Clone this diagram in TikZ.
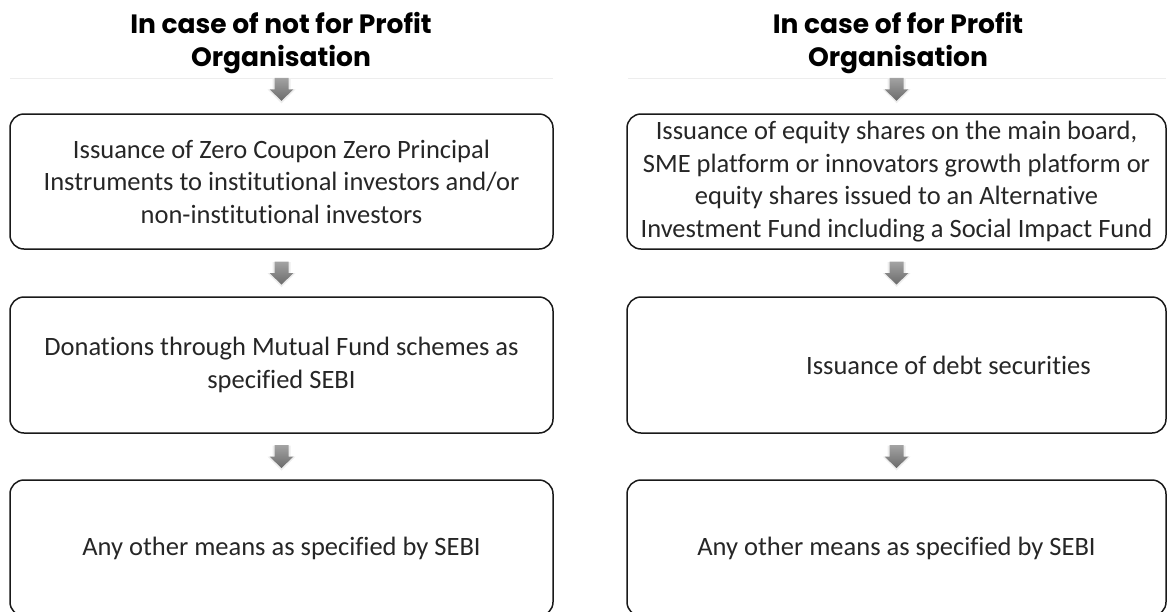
\documentclass[tikz,border=0pt]{standalone}
\usepackage{fontspec}
\setmainfont{Carlito}[Ligatures={NoCommon}]
\newfontfamily\titlefont{Poppins}
\usetikzlibrary{calc}
\tikzset{
  box/.style={draw=black!90, line width=1.5pt, rounded corners=14pt, align=center,
    inner sep=0pt, font=\fontsize{26.5}{32.5}\selectfont, text=black!85},
  leftbox/.style={box, minimum width=543pt},
  rightbox/.style={box, minimum width=539pt},
  titletext/.style={align=center, font=\titlefont\bfseries\fontsize{26.5}{33}\selectfont, text=black},
  pics/downarrow/.style={code={
    \fill[black!7] (-9,-11) rectangle (9,3) (-14,0) -- (14,0) -- (0,14) -- cycle;
    \shade[top color=black!36, bottom color=black!58]
      (-7,-11.5) -- (7,-11.5) -- (7,0) -- (12,0) -- (0,11.5) -- (-12,0) -- (-7,0) -- cycle;
  }}
}
\begin{document}
\begin{tikzpicture}[x=1pt,y=-1pt]
\useasboundingbox (0,0) rectangle (1167,611);
% faint rules under titles
\draw[black!7, line width=1pt] (10,78) -- (553,78) (628,78) -- (1166,78);
% titles
\node[titletext] (tl) at (281,43) {In case of not for Profit\\Organisation};
\node[titletext] (tr) at (898,43) {In case of for Profit\\Organisation};
% left column
\node[leftbox, minimum height=135pt] (l1) at (281.5,181.5)
  {Issuance of Zero Coupon Zero Principal\\Instruments to institutional investors and/or\\non-institutional investors};
\node[leftbox, minimum height=136pt] (l2) at (281.5,365)
  {Donations through Mutual Fund schemes as\\specified SEBI};
\node[leftbox, minimum height=136pt] (l3) at (281.5,548)
  {Any other means as specified by SEBI};
% right column
\node[rightbox, minimum height=135pt] (r1) at (896.5,181.5)
  {Issuance of equity shares on the main board,\\SME platform or innovators growth platform or\\equity shares issued to an Alternative\\Investment Fund including a Social Impact Fund};
\node[rightbox, minimum height=136pt] (r2) at (896.5,365)
  {\hspace*{104pt}Issuance of debt securities};
\node[rightbox, minimum height=136pt] (r3) at (896.5,548)
  {Any other means as specified by SEBI};
% block arrows
\pic at ([yshift=24pt]l1.north) {downarrow};
\pic at ($(l1.south)!0.5!(l2.north)$) {downarrow};
\pic at ($(l2.south)!0.5!(l3.north)$) {downarrow};
\pic at ([yshift=24pt]r1.north) {downarrow};
\pic at ($(r1.south)!0.5!(r2.north)$) {downarrow};
\pic at ($(r2.south)!0.5!(r3.north)$) {downarrow};
\end{tikzpicture}
\end{document}
